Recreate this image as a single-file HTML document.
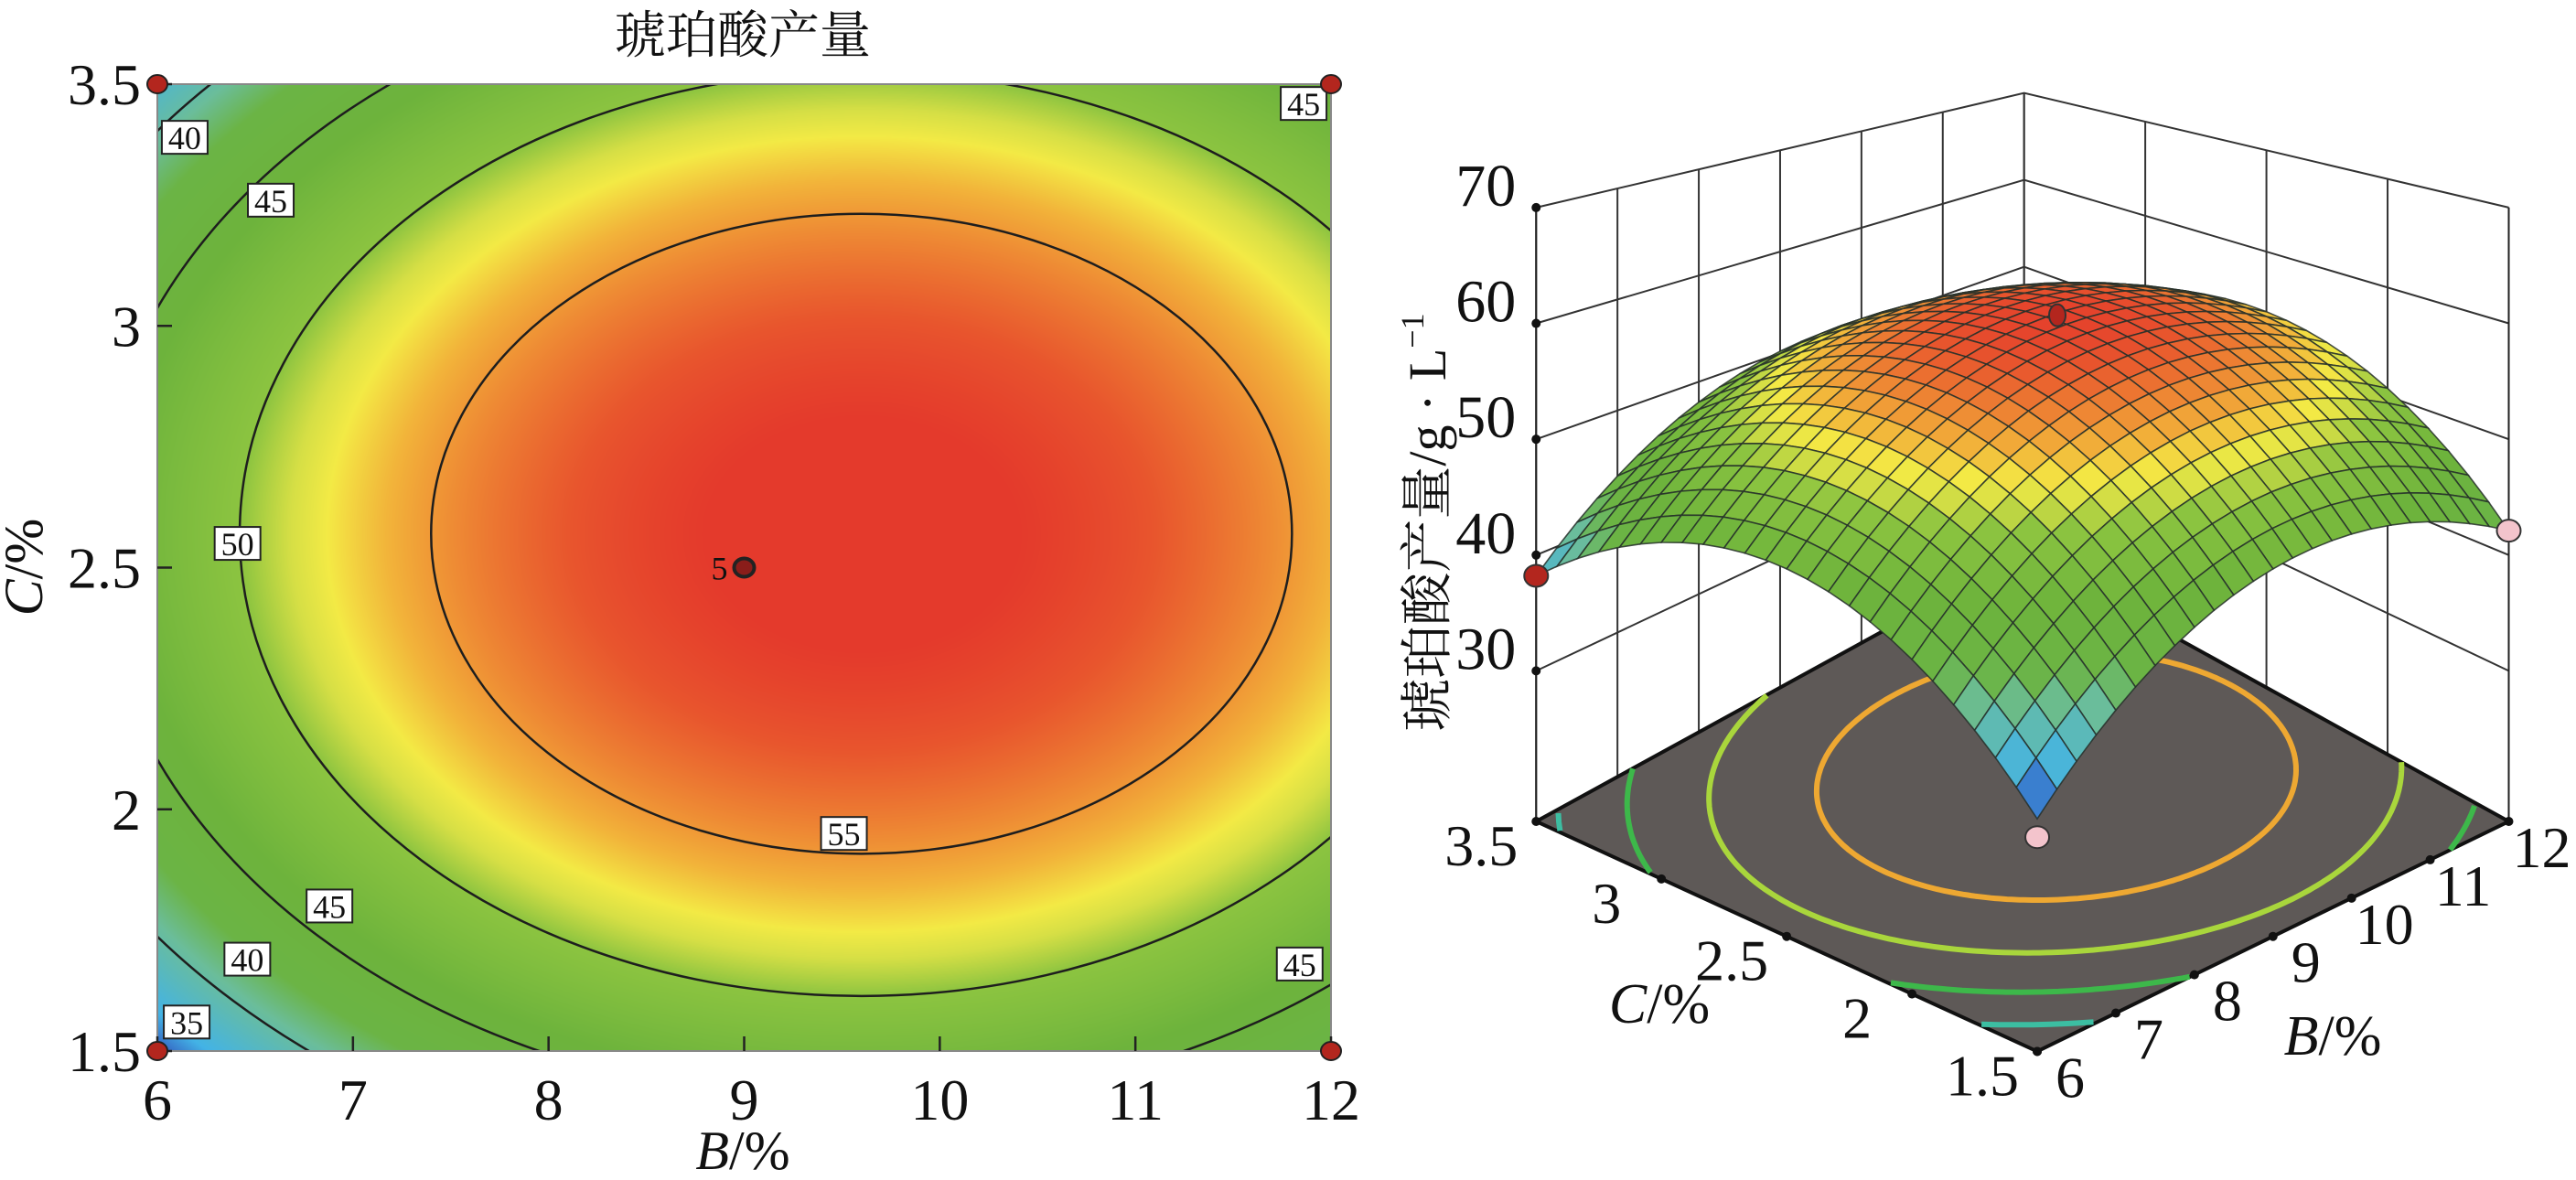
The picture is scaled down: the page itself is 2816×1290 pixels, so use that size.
<!DOCTYPE html>
<html><head><meta charset="utf-8">
<style>
html,body{margin:0;padding:0;background:#fff;width:2816px;height:1290px;overflow:hidden;}
#wrap{position:relative;width:2816px;height:1290px;overflow:hidden;}
#heat{position:absolute;left:172px;top:92px;}
svg{position:absolute;left:0;top:0;}
text{font-family:"Liberation Serif","Noto Serif CJK SC",serif;fill:#111;}
</style></head>
<body>
<div id="wrap">
<canvas id="heat" width="1283" height="1057"></canvas>
<svg id="svg" width="2816" height="1290" viewBox="0 0 2816 1290">
  <defs><clipPath id="plotClip"><rect x="172" y="92" width="1283" height="1057"/></clipPath></defs>
  <text x="812" y="58" font-size="56" text-anchor="middle">琥珀酸产量</text>
  <g id="left"></g>
  <g id="right"></g>
</svg>
</div>
<script>
// ---- data ----
const peakValue = [59.6];
const peakCenter = [9.6, 2.57];      // B, C
const curvature = [0.95, 10.5];      // a (B), b (C)
const bTicks = [6,7,8,9,10,11,12];
const cTicks = [1.5,2,2.5,3,3.5];
const cTickLabels = ['1.5','2','2.5','3','3.5'];
const contourLevels = [35,40,45,50,55];
const labelTexts = ['40','45','50','55','45','40','35','45','45'];
const labelB = [6.14,6.58,6.41,9.51,6.88,6.46,6.15,11.86,11.84];
const labelC = [3.39,3.26,2.55,1.95,1.80,1.69,1.56,3.46,1.68];
const designB = [6,12,6,12,9];
const designC = [1.5,1.5,3.5,3.5,2.5];
const zTicks = [30,40,50,60,70];
const floorLevels = [35,40,45,50,55];
const floorColors = ['#3d8fd6','#3cbea2','#3db84a','#a9d63c','#eea832'];

function f(B,C){const dB=B-peakCenter[0],dC=C-peakCenter[1];return peakValue[0]-curvature[0]*dB*dB-curvature[1]*dC*dC;}
const stops=[[34,'#2a2f8f'],[35.5,'#3563c2'],[37,'#43b3e6'],[40.5,'#6bbd9a'],[42.5,'#6bb445'],[46,'#6db33c'],[50,'#8cc440'],[51.5,'#d6df45'],[52.5,'#f3ea45'],[54,'#f2b43a'],[55.5,'#ee8a34'],[57.5,'#e8552d'],[59,'#e43a2c']];
function hex(h){return [parseInt(h.substr(1,2),16),parseInt(h.substr(3,2),16),parseInt(h.substr(5,2),16)];}
const sRGB=stops.map(s=>[s[0],hex(s[1])]);
function cmap(v){
  if(v<=sRGB[0][0])return sRGB[0][1];
  for(let i=1;i<sRGB.length;i++){if(v<=sRGB[i][0]){const t=(v-sRGB[i-1][0])/(sRGB[i][0]-sRGB[i-1][0]);const a=sRGB[i-1][1],b=sRGB[i][1];return [a[0]+(b[0]-a[0])*t,a[1]+(b[1]-a[1])*t,a[2]+(b[2]-a[2])*t];}}
  return sRGB[sRGB.length-1][1];
}
function rgb(c){return 'rgb('+c.map(Math.round).join(',')+')';}
const NS='http://www.w3.org/2000/svg';
function el(tag,attrs,parent){const e=document.createElementNS(NS,tag);for(const k in attrs)e.setAttribute(k,attrs[k]);parent.appendChild(e);return e;}

// ---- left contour plot ----
const X0=172,X1=1455,Y0=92,Y1=1149;
const xs=B=>X0+(B-6)/6*(X1-X0);
const ys=C=>Y1-(C-1.5)/2*(Y1-Y0);
const ctx=document.getElementById('heat').getContext('2d');
const img=ctx.createImageData(1283,1057);
for(let py=0;py<1057;py++){const C=3.5-py/1057*2;for(let px=0;px<1283;px++){const B=6+px/1283*6;const c=cmap(f(B,C));const k=(py*1283+px)*4;img.data[k]=c[0];img.data[k+1]=c[1];img.data[k+2]=c[2];img.data[k+3]=255;}}
ctx.putImageData(img,0,0);

const L=document.getElementById('left');
const cg=el('g',{'clip-path':'url(#plotClip)'},L);


contourLevels.forEach(lv=>{
  const rx=Math.sqrt((peakValue[0]-lv)/curvature[0])*(X1-X0)/6;
  const ry=Math.sqrt((peakValue[0]-lv)/curvature[1])*(Y1-Y0)/2;
  const e=el('ellipse',{cx:xs(peakCenter[0]),cy:ys(peakCenter[1]),rx:rx,ry:ry,fill:'none',stroke:'#1e1e1e','stroke-width':2.5},cg);
  
  
});
const fr=el('rect',{x:X0,y:Y0,width:X1-X0,height:Y1-Y0,fill:'none',stroke:'#888','stroke-width':2},L);


bTicks.forEach(b=>{
  const t=el('line',{x1:xs(b),x2:xs(b),y1:Y1,y2:Y1-16,stroke:'#222','stroke-width':2.5},L);
  
  
  const tx=el('text',{x:xs(b),y:1224,'font-size':64,'text-anchor':'middle'},L);tx.textContent=String(b);
  
  
});
cTicks.forEach((c,i)=>{
  const t=el('line',{x1:X0,x2:X0+16,y1:ys(c),y2:ys(c),stroke:'#222','stroke-width':2.5},L);
  
  
  const tx=el('text',{x:154,y:ys(c)+22,'font-size':64,'text-anchor':'end'},L);tx.textContent=cTickLabels[i];
  
  
});
labelTexts.forEach((s,i)=>{
  const g=el('g',{},L);
  
  
  const x=xs(labelB[i]),y=ys(labelC[i]);
  el('rect',{x:x-25,y:y-18,width:50,height:36,fill:'#fff',stroke:'#222','stroke-width':2},g);
  const t=el('text',{x:x,y:y+13,'font-size':36,'text-anchor':'middle'},g);t.textContent=s;
});
designB.forEach((b,i)=>{
  const isC=i===4;
  const d=el('ellipse',{cx:xs(b),cy:ys(designC[i]),rx:isC?11:11,ry:isC?10:10,fill:isC?'#8a1d1a':'#b3261e',stroke:'#222','stroke-width':isC?4:2},L);
  
  
});
const five=el('text',{x:xs(9)-18,y:ys(2.5)+13,'font-size':36,'text-anchor':'end'},L);five.textContent='5';


const xt=el('text',{x:812,y:1278,'font-size':60,'text-anchor':'middle'},L);
xt.innerHTML='<tspan font-style="italic">B</tspan>/%';


const yt=el('text',{x:0,y:0,'font-size':60,'text-anchor':'middle',transform:'translate(46,620) rotate(-90)'},L);
yt.innerHTML='<tspan font-style="italic">C</tspan>/%';



// ---- right 3D surface (trilinear box projection) ----
const R=document.getElementById('right');
const ZF=17;
const S=1.796;
// floor corners (display units * S): front(B6,C1.5), right(B12,C1.5), left(B6,C3.5), back(B12,C3.5)
const cF=[1240*S,640*S],cR=[1527*S,500*S],cL=[935*S,500*S],cK=[1232*S,337*S];
const hF=7.75*S,hR=7.05*S,hL=7.05*S,hK=5.29*S;
function P(B,C,z){
  const u=(B-6)/6,v=(C-1.5)/2;
  const wF=(1-u)*(1-v),wR=u*(1-v),wL=(1-u)*v,wK=u*v;
  const x=cF[0]*wF+cR[0]*wR+cL[0]*wL+cK[0]*wK;
  const y=cF[1]*wF+cR[1]*wR+cL[1]*wL+cK[1]*wK;
  const h=hF*wF+hR*wR+hL*wL+hK*wK;
  return [x,y-(z-ZF)*h];
}
function pts(a){return a.map(p=>p[0].toFixed(1)+','+p[1].toFixed(1)).join(' ');}
const wall=el('g',{stroke:'#333','stroke-width':2,fill:'none'},R);


bTicks.forEach(b=>{const a=P(b,3.5,ZF),c=P(b,3.5,70);el('line',{x1:a[0],y1:a[1],x2:c[0],y2:c[1]},wall);});
cTicks.forEach(c=>{const a=P(12,c,ZF),d=P(12,c,70);el('line',{x1:a[0],y1:a[1],x2:d[0],y2:d[1]},wall);});
zTicks.forEach(z=>{el('polyline',{points:pts([P(6,3.5,z),P(12,3.5,z),P(12,1.5,z)])},wall);});
const fl=el('polygon',{points:pts([P(6,1.5,ZF),P(12,1.5,ZF),P(12,3.5,ZF),P(6,3.5,ZF)]),fill:'#5e5957',stroke:'#111','stroke-width':4},R);


floorLevels.forEach((lv,li)=>{
  const rx=Math.sqrt((peakValue[0]-lv)/curvature[0]),ry=Math.sqrt((peakValue[0]-lv)/curvature[1]);
  let seg=[];const segs=[];
  for(let k=0;k<=360;k++){const t=k/360*2*Math.PI;const B=peakCenter[0]+rx*Math.cos(t),C=peakCenter[1]+ry*Math.sin(t);
    if(B>=6&&B<=12&&C>=1.5&&C<=3.5)seg.push(P(B,C,ZF));else{if(seg.length>1)segs.push(seg);seg=[];}}
  if(seg.length>1)segs.push(seg);
  segs.forEach(s=>{const pl=el('polyline',{points:pts(s),fill:'none',stroke:floorColors[li],'stroke-width':6},R);
    
    });
});
const N=24;const quads=[];
for(let i=0;i<N;i++)for(let j=0;j<N;j++){
  const b0=6+6*i/N,b1=6+6*(i+1)/N,c0=1.5+2*j/N,c1=1.5+2*(j+1)/N;
  quads.push({d:i+j,pp:[P(b0,c0,f(b0,c0)),P(b1,c0,f(b1,c0)),P(b1,c1,f(b1,c1)),P(b0,c1,f(b0,c1))],z:f((b0+b1)/2,(c0+c1)/2)});
}
quads.sort((a,b)=>b.d-a.d);
const sg=el('g',{},R);


quads.forEach(q=>{const p=el('polygon',{points:pts(q.pp),fill:rgb(cmap(q.z-1)),stroke:'#26302a','stroke-width':1.6,'stroke-opacity':0.85},sg);
  
  });
const ed=el('g',{stroke:'#222','stroke-width':2,fill:'none'},R);


[[P(6,3.5,ZF),P(6,3.5,70)],[P(12,1.5,ZF),P(12,1.5,70)]].forEach(l=>el('line',{x1:l[0][0],y1:l[0][1],x2:l[1][0],y2:l[1][1]},ed));
zTicks.forEach(z=>{const p=P(6,3.5,z);const d=el('circle',{cx:p[0],cy:p[1],r:5,fill:'#111'},R);
  
  
  const t=el('text',{x:p[0]-22,y:p[1]-2,'font-size':66,'text-anchor':'end'},R);t.textContent=String(z);
  
  });
cTicks.forEach((c,i)=>{const p=P(6,c,ZF);const d=el('circle',{cx:p[0],cy:p[1],r:5,fill:'#111'},R);
  
  
  const t=el('text',{x:p[0]-60,y:p[1]+48,'font-size':64,'text-anchor':'middle'},R);t.textContent=cTickLabels[i];
  
  });
bTicks.forEach(b=>{const p=P(b,1.5,ZF);const d=el('circle',{cx:p[0],cy:p[1],r:5,fill:'#111'},R);
  
  
  const t=el('text',{x:p[0]+36,y:p[1]+50,'font-size':64,'text-anchor':'middle'},R);t.textContent=String(b);
  
  });
[[6,3.5,'#b3261e'],[12,1.5,'#f3c4cc'],[6,1.5,'#f3c4cc'],[9.6,2.57,'#b3261e']].forEach((d,i)=>{
  const p=P(d[0],d[1],f(d[0],d[1]));
  const c=el('ellipse',{cx:p[0],cy:p[1]+(i===2?20:0),rx:i===3?9:13,ry:12,fill:d[2],stroke:'#333','stroke-width':2},R);
  
  
});
const ct=el('text',{x:1814,y:1118,'font-size':62,'text-anchor':'middle'},R);ct.innerHTML='<tspan font-style="italic">C</tspan>/%';


const bt=el('text',{x:2550,y:1153,'font-size':62,'text-anchor':'middle'},R);bt.innerHTML='<tspan font-style="italic">B</tspan>/%';


const zt=el('text',{x:0,y:0,'font-size':58,'text-anchor':'middle',transform:'translate(1580,571) rotate(-90)'},R);
zt.innerHTML='琥珀酸产量/g · L<tspan font-size="36" dy="-24">−1</tspan>';


</script>
</body></html>
